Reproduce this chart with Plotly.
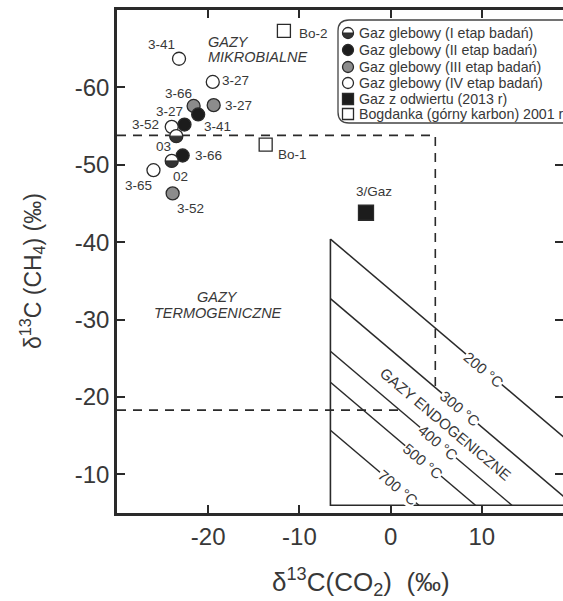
import numpy as np
import plotly.graph_objects as go

# ---------------- data ----------------
# Gaz glebowy, I etap (half-filled circles)
stage1_x = [-23.5, -24.0]
stage1_y = [-53.7, -50.5]
stage1_labels = ["03", "02"]
# Gaz glebowy, II etap (black circles)
stage2_x = [-21.1, -22.6, -22.8]
stage2_y = [-56.5, -55.2, -51.2]
stage2_labels = ["3-41", "3-27", "3-66"]
# Gaz glebowy, III etap (grey circles)
stage3_x = [-21.6, -19.4, -23.9]
stage3_y = [-57.6, -57.7, -46.3]
stage3_labels = ["3-66", "3-27", "3-52"]
# Gaz glebowy, IV etap (open circles)
stage4_x = [-23.2, -19.5, -24.0, -26.0]
stage4_y = [-63.7, -60.7, -54.9, -49.3]
stage4_labels = ["3-41", "3-27", "3-52", "3-65"]
# Gaz z odwiertu (2013 r)
well_x = [-2.7]
well_y = [-43.8]
well_labels = ["3/Gaz"]
# Bogdanka (górny karbon) 2001 r
bog_x = [-11.7, -13.7]
bog_y = [-67.3, -52.6]
bog_labels = ["Bo-2", "Bo-1"]

# isotherms: d13C(CH4) = d13C(CO2) + intercept
isotherm_names = ["200 °C", "300 °C", "400 °C", "500 °C", "700 °C"]
isotherm_intercepts = [-33.8, -26.1, -19.3, -15.3, -9.1]
isotherm_label_x = [10.2, 7.6, 5.2, 3.6, 0.8]

# field boundaries
endo_left_x = -6.6
endo_top_y = -40.4
endo_bottom_y = -6.0
microbial_limit_y = -53.8
thermo_limit_y = -18.3
vertical_limit_x = 4.9

x_tickvals = [-20, -10, 0, 10]
x_ticktext = ["-20", "-10", "0", "10"]
y_tickvals = [-60, -50, -40, -30, -20, -10]
y_ticktext = ["-60", "-50", "-40", "-30", "-20", "-10"]
X_RANGE = [-30, 18.9]
Y_RANGE = [-5, -70]

legend_names = [
    "Gaz glebowy (I etap badań)",
    "Gaz glebowy (II etap badań)",
    "Gaz glebowy (III etap badań)",
    "Gaz glebowy (IV etap badań)",
    "Gaz z odwiertu (2013 r)",
    "Bogdanka (górny karbon) 2001 r",
]

# ---------------- styling / layout offsets ----------------
FONT = "Liberation Sans, Arial, sans-serif"
TXT = "#383838"
LINE = "#2a2a2a"
BLACK_FILL = "#1c1c1c"
GREY_FILL = "#8c8c8c"
W, H = 563, 601
ML, MR, MT, MB = 117, 0, 10, 88
PW, PH = W - ML - MR, H - MT - MB

def px_to_paper(px, py):
    return (px - ML) / PW, (H - MB - py) / PH

stage1_off = [(-13, -10), (9, -16)]
stage2_off = [(19, -12), (-15, 13), (26, 0)]
stage3_off = [(-15, 12), (25, 0), (18, -15)]
stage4_off = [(-18, 14), (23, 1), (-26, 2), (-15, -15)]
well_off = [(8, 21)]
bog_off = [(30, -3), (27, -10)]

fig = go.Figure()
annotations = []
shapes = []

# endogenic field box
fig.add_trace(go.Scatter(
    x=[endo_left_x, endo_left_x, X_RANGE[1] + 5],
    y=[endo_top_y, endo_bottom_y, endo_bottom_y],
    mode="lines", line=dict(color=LINE, width=1.6), hoverinfo="skip", showlegend=False))

# isotherms
for name, c, lx in zip(isotherm_names, isotherm_intercepts, isotherm_label_x):
    x_end = min(endo_bottom_y - c, X_RANGE[1] + 6)
    fig.add_trace(go.Scatter(
        x=[endo_left_x, x_end], y=[endo_left_x + c, x_end + c],
        mode="lines", line=dict(color=LINE, width=1.5), hoverinfo="skip", showlegend=False))
    annotations.append(dict(x=lx, y=lx + c, text=name, showarrow=False, textangle=40,
                            bgcolor="white", borderpad=0,
                            font=dict(family=FONT, size=15, color=TXT)))

# dashed boundaries
fig.add_trace(go.Scatter(
    x=[X_RANGE[0], vertical_limit_x, vertical_limit_x],
    y=[microbial_limit_y, microbial_limit_y, vertical_limit_x + isotherm_intercepts[1]],
    mode="lines", line=dict(color=LINE, width=1.6, dash="9px,7px"),
    hoverinfo="skip", showlegend=False))
fig.add_trace(go.Scatter(
    x=[X_RANGE[0], thermo_limit_y - isotherm_intercepts[2]],
    y=[thermo_limit_y, thermo_limit_y],
    mode="lines", line=dict(color=LINE, width=1.6, dash="9px,7px"),
    hoverinfo="skip", showlegend=False))

MS = 13
OUT = dict(color=LINE, width=1.3)
fig.add_trace(go.Scatter(x=stage3_x, y=stage3_y, mode="markers",
                         marker=dict(symbol="circle", size=MS, color=GREY_FILL, line=OUT),
                         name=legend_names[2], showlegend=False))
fig.add_trace(go.Scatter(x=stage2_x, y=stage2_y, mode="markers",
                         marker=dict(symbol="circle", size=MS, color=BLACK_FILL, line=OUT),
                         name=legend_names[1], showlegend=False))
fig.add_trace(go.Scatter(x=stage4_x, y=stage4_y, mode="markers",
                         marker=dict(symbol="circle", size=MS, color="white", line=OUT),
                         name=legend_names[3], showlegend=False))
fig.add_trace(go.Scatter(x=stage1_x, y=stage1_y, mode="markers",
                         marker=dict(symbol="circle", size=MS, color="white", line=OUT),
                         name=legend_names[0], showlegend=False))
fig.add_trace(go.Scatter(x=bog_x, y=bog_y, mode="markers",
                         marker=dict(symbol="square", size=13, color="white", line=OUT),
                         name=legend_names[5], showlegend=False))
fig.add_trace(go.Scatter(x=well_x, y=well_y, mode="markers",
                         marker=dict(symbol="square", size=15, color=BLACK_FILL, line=OUT),
                         name=legend_names[4], showlegend=False))

def half_path(r):
    t = np.linspace(0, np.pi, 25)
    pts = [(r * np.cos(a), -r * np.sin(a)) for a in t]
    return "M " + " L ".join(f"{a:.2f},{b:.2f}" for a, b in pts) + " Z"

def half_shape(x, y, r, xref="x", yref="y"):
    return dict(type="path", xref=xref, yref=yref, xsizemode="pixel", ysizemode="pixel",
                xanchor=x, yanchor=y, path=half_path(r), fillcolor="#333333",
                line=dict(color=LINE, width=1))

for x, y in zip(stage1_x, stage1_y):
    shapes.append(half_shape(x, y, 6.2))

# point labels
for xs, ys, labs, offs in [(stage1_x, stage1_y, stage1_labels, stage1_off),
                           (stage2_x, stage2_y, stage2_labels, stage2_off),
                           (stage3_x, stage3_y, stage3_labels, stage3_off),
                           (stage4_x, stage4_y, stage4_labels, stage4_off),
                           (well_x, well_y, well_labels, well_off),
                           (bog_x, bog_y, bog_labels, bog_off)]:
    for x, y, lab, (dx, dy) in zip(xs, ys, labs, offs):
        annotations.append(dict(x=x, y=y, text=lab, showarrow=False, xshift=dx, yshift=dy,
                                font=dict(family=FONT, size=13.5, color=TXT)))

# field names
ITAL = dict(family=FONT, size=14.5, color=TXT, style="italic")
for txt, (px, py) in [("GAZY", (228, 42)), ("MIKROBIALNE", (257, 57)),
                      ("GAZY", (217, 297)), ("TERMOGENICZNE", (218, 313))]:
    xp, yp = px_to_paper(px, py)
    annotations.append(dict(xref="paper", yref="paper", x=xp, y=yp, text=txt,
                            xanchor="center", yanchor="middle",
                            showarrow=False, font=ITAL))
annotations.append(dict(x=6.1, y=-16.5, text="GAZY ENDOGENICZNE", showarrow=False,
                        textangle=40, font=dict(family=FONT, size=15, color=TXT)))

# axis titles
xp, yp = px_to_paper(32, 271)
annotations.append(dict(xref="paper", yref="paper", x=xp, y=yp, textangle=-90,
                        xanchor="center", yanchor="middle",
                        text="δ<sup>13</sup>C (CH<sub>4</sub>) (‰)", showarrow=False,
                        font=dict(family=FONT, size=23, color=TXT)))
xp, yp = px_to_paper(361, 582)
annotations.append(dict(xref="paper", yref="paper", x=xp, y=yp,
                        xanchor="center", yanchor="middle",
                        text="δ<sup>13</sup>C(CO<sub>2</sub>)\u00a0\u00a0(‰)", showarrow=False,
                        font=dict(family=FONT, size=26, color=TXT)))

# ---------------- manual legend ----------------
LX0, LX1, LY0, LY1 = 338, 563, 20, 123  # legend box in pixels
lx0, ly_top = px_to_paper(LX0, LY0)
_, ly_bot = px_to_paper(LX0, LY1)
rx, ry = 11 / PW, 11 / PH
shapes.append(dict(type="path", xref="paper", yref="paper",
                   path=(f"M 1.05,{ly_top} L {lx0 + rx},{ly_top} Q {lx0},{ly_top} {lx0},{ly_top - ry} "
                         f"L {lx0},{ly_bot + ry} Q {lx0},{ly_bot} {lx0 + rx},{ly_bot} L 1.05,{ly_bot}"),
                   line=dict(color="#444444", width=1.3)))
row_y = [13, 30, 47, 63, 79, 94]
mk_x = 10
leg_markers = [
    dict(symbol="circle", size=11, color="white", line=OUT),
    dict(symbol="circle", size=11, color=BLACK_FILL, line=OUT),
    dict(symbol="circle", size=11, color=GREY_FILL, line=OUT),
    dict(symbol="circle", size=11, color="white", line=OUT),
    dict(symbol="square", size=11, color=BLACK_FILL, line=OUT),
    dict(symbol="square", size=11, color="white", line=OUT),
]
for name, ry_, mk in zip(legend_names, row_y, leg_markers):
    fig.add_trace(go.Scatter(x=[mk_x], y=[ry_], xaxis="x3", yaxis="y3", mode="markers",
                             marker=mk, hoverinfo="skip", showlegend=False, cliponaxis=False))
    annotations.append(dict(xref="x3", yref="y3", x=mk_x + 9, y=ry_, xanchor="left",
                            text=name, showarrow=False,
                            font=dict(family=FONT, size=14.2, color=TXT)))
shapes.append(half_shape(mk_x, row_y[0], 5.2, xref="x3", yref="y3"))

axis_common = dict(ticks="inside", ticklen=8, tickwidth=1.5, tickcolor=LINE,
                   showgrid=False, zeroline=False)
fig.update_layout(
    width=W, height=H,
    margin=dict(l=ML, r=MR, t=MT, b=MB),
    paper_bgcolor="white", plot_bgcolor="white",
    showlegend=False,
    xaxis=dict(range=X_RANGE, tickvals=x_tickvals, ticktext=x_ticktext,
               showline=True, linewidth=2.6, linecolor=LINE, mirror="ticks",
               tickfont=dict(family=FONT, size=24, color=TXT), **axis_common),
    yaxis=dict(range=Y_RANGE, tickvals=y_tickvals, ticktext=y_ticktext,
               showline=True, linewidth=2.6, linecolor=LINE,
               tickfont=dict(family=FONT, size=24, color=TXT), **axis_common),
    yaxis2=dict(range=Y_RANGE, tickvals=y_tickvals, overlaying="y", side="right",
                showticklabels=False, showline=False, **axis_common),
    xaxis3=dict(domain=[(LX0 - ML) / PW, 1.0], range=[0, LX1 - LX0], anchor="y3", visible=False),
    yaxis3=dict(domain=[ly_bot, ly_top], range=[LY1 - LY0, 0], anchor="x3", visible=False),
    annotations=annotations,
    shapes=shapes,
)
# dummy trace to activate the right-hand tick axis
fig.add_trace(go.Scatter(x=[X_RANGE[0]], y=[Y_RANGE[0]], yaxis="y2", mode="markers",
                         marker=dict(size=0.1, opacity=0), hoverinfo="skip", showlegend=False))

fig.write_html("out.html", config={"displayModeBar": False},
               post_script="document.body.style.margin='0';document.body.style.overflow='hidden';")
